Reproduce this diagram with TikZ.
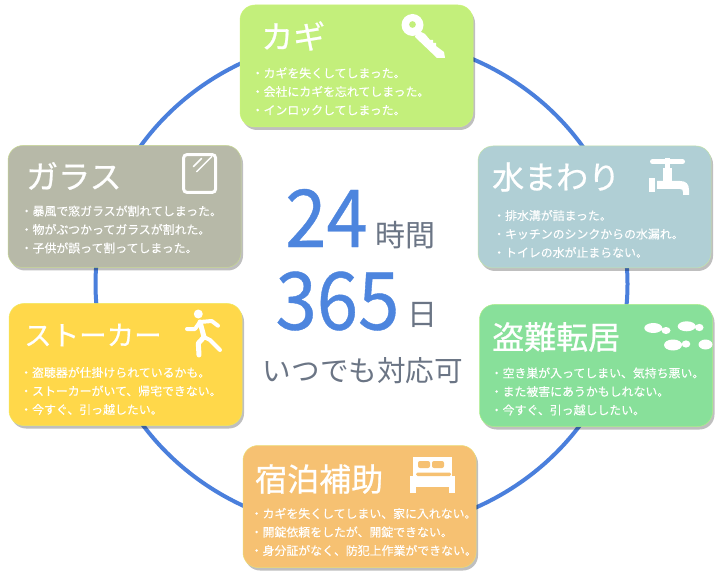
\documentclass[tikz,border=0pt]{standalone}
\usepackage{fontspec}
\setmainfont{Noto Sans CJK JP}
\newfontfamily\headfont[FakeBold=0.7]{Noto Sans CJK JP}
\newfontfamily\linefont[FakeBold=0.25]{Noto Sans CJK JP}
\newfontfamily\numfont[FakeBold=0.5]{Noto Sans CJK JP}
\usetikzlibrary{shapes.geometric,shadows}
\definecolor{ringblue}{HTML}{4A7FDC}
\definecolor{numblue}{HTML}{4D85DE}
\definecolor{wordgray}{HTML}{6B7585}
\definecolor{keygreen}{HTML}{C3EF7B}
\definecolor{watercol}{HTML}{B0CFD5}
\definecolor{thiefcol}{HTML}{88E09A}
\definecolor{bedcol}{HTML}{F6C172}
\definecolor{stalkcol}{HTML}{FFD84A}
\definecolor{glasscol}{HTML}{B7B9A8}
\begin{document}
\begin{tikzpicture}[
  panel/.style={rectangle, rounded corners=15pt, minimum width=233pt, minimum height=122pt, inner sep=0pt, draw=#1!70!lime!80!white, line width=.5pt, fill=#1, drop shadow={shadow xshift=2pt, shadow yshift=-3pt, fill=black, opacity=.25}},
  head/.style={anchor=west, inner sep=0pt, text=white, font=\headfont\fontsize{32}{32}\selectfont},
  lines/.style={anchor=west, inner sep=0pt, align=left, text=white, font=\linefont\fontsize{11.9}{18.5}\selectfont},
  word/.style={inner sep=0pt, text=wordgray},
  num/.style={inner sep=0pt, text=numblue, transform shape, xscale=.93, font=\numfont\fontsize{80}{80}\selectfont},
  iconline/.style={draw=white, line width=#1, line cap=round, line join=round},
  iconline/.default=5pt]
  \useasboundingbox (0pt, 0pt) rectangle (720pt, -585pt);
  \draw (0pt, 0pt) rectangle (720pt, -585pt) [draw=none, fill=white];
  \draw (361.5pt, -284pt)node[ellipse, draw=ringblue, line width=4pt, minimum width=532pt, minimum height=495pt, inner sep=0pt](ring){};

  \draw (356.5pt, -66pt)node[panel=keygreen](key){};
  \draw (594.5pt, -207pt)node[panel=watercol](water){};
  \draw (596pt, -365.5pt)node[panel=thiefcol](thief){};
  \draw (359.5pt, -506.5pt)node[panel=bedcol](bed){};
  \draw (125.5pt, -364.5pt)node[panel=stalkcol](stalker){};
  \draw (124.5pt, -206.5pt)node[panel=glasscol](glass){};

  \draw (261pt, -36pt)node[head](keyhead){カギ};
  \draw (492pt, -177pt)node[head](waterhead){水まわり};
  \draw (492pt, -337pt)node[head](thiefhead){盗難転居};
  \draw (255pt, -479pt)node[head](bedhead){宿泊補助};
  \draw (24pt, -335pt)node[head, font=\headfont\fontsize{27.5}{28}\selectfont](stalkerhead){ストーカー};
  \draw (26pt, -176pt)node[head](glasshead){ガラス};

  \draw (251.5pt, -91.5pt)node[lines](keytext){・カギを失くしてしまった。\\・会社にカギを忘れてしまった。\\・インロックしてしまった。};
  \draw (493pt, -234pt)node[lines](watertext){・排水溝が詰まった。\\・キッチンのシンクからの水漏れ。\\・トイレの水が止まらない。};
  \draw (490.5pt, -391.5pt)node[lines](thieftext){・空き巣が入ってしまい、気持ち悪い。\\・また被害にあうかもしれない。\\・今すぐ、引っ越ししたい。};
  \draw (250.5pt, -532pt)node[lines](bedtext){・カギを失くしてしまい、家に入れない。\\・開錠依頼をしたが、開錠できない。\\・身分証がなく、防犯上作業ができない。};
  \draw (20pt, -391pt)node[lines](stalkertext){・盗聴器が仕掛けられているかも。\\・ストーカーがいて、帰宅できない。\\・今すぐ、引っ越したい。};
  \draw (20.5pt, -229.5pt)node[lines](glasstext){・暴風で窓ガラスが割れてしまった。\\・物がぶつかってガラスが割れた。\\・子供が誤って割ってしまった。};

  \draw (326.5pt, -218pt)node[num](hourcount){24};
  \draw (337.5pt, -301pt)node[num](daycount){365};
  \draw (405.5pt, -235pt)node[word, font=\fontsize{30}{30}\selectfont](hours){時間};
  \draw (422pt, -314.5pt)node[word, font=\fontsize{30}{30}\selectfont](days){日};
  \draw (363pt, -370.5pt)node[word, font=\fontsize{28.6}{29}\selectfont](always){いつでも対応可};

  % key
  \fill[white, even odd rule] (412.5pt, -25pt) circle (11pt) (412.5pt, -24.5pt) circle (3.5pt);
  \fill[white] (417pt, -30pt) -- (425pt, -34pt) -- (430pt, -40pt) -- (433pt, -40pt) -- (433pt, -43pt) -- (436pt, -43pt) -- (436pt, -46pt) -- (444pt, -52pt) -- (445pt, -58pt) -- (437pt, -58pt) -- (415pt, -37pt) -- cycle;
  % tap
  \draw[iconline] (652.5pt, -161.7pt) -- (682.5pt, -161.7pt);
  \fill[white] (665pt, -158pt) rectangle (670pt, -168pt);
  \fill[white] (663pt, -168pt) rectangle (672pt, -181pt);
  \fill[white] (649pt, -178pt) rectangle (655pt, -192pt);
  \fill[white] (657pt, -181pt) -- (680pt, -181pt) .. controls (686pt, -181pt) and (689pt, -184pt) .. (689pt, -190pt) -- (689pt, -195pt) -- (683pt, -195pt) -- (683pt, -192pt) .. controls (683pt, -190pt) and (682pt, -189pt) .. (680pt, -189pt) -- (657pt, -189pt) -- cycle;
  % footprints
  \fill[white] (653.3pt, -328pt) ellipse (9pt and 5pt) (666pt, -330.5pt) ellipse (4.5pt and 3.5pt);
  \fill[white] (686.7pt, -326.3pt) ellipse (9pt and 5pt) (699.3pt, -327.5pt) ellipse (4.3pt and 3.6pt);
  \fill[white] (673pt, -345pt) ellipse (9pt and 5.5pt) (686pt, -344pt) ellipse (4.3pt and 3.6pt);
  \fill[white] (705.5pt, -344.5pt) ellipse (7pt and 5pt);
  % bed
  \fill[white] (413pt, -457pt) rectangle (452pt, -476pt);
  \fill[white] (410pt, -476pt) rectangle (455pt, -487pt);
  \fill[white] (410pt, -487pt) rectangle (416pt, -493pt);
  \fill[white] (449pt, -487pt) rectangle (455pt, -493pt);
  \fill[bedcol, rounded corners=2pt] (418pt, -461pt) rectangle (430pt, -468pt);
  \fill[bedcol, rounded corners=2pt] (432pt, -461pt) rectangle (444pt, -468pt);
  \fill[bedcol, rounded corners=1.5pt] (416pt, -472.5pt) rectangle (451pt, -476pt);
  % runner
  \fill[white] (198.3pt, -314pt) circle (4.5pt);
  \draw[iconline=4pt] (187pt, -329pt) -- (195pt, -329pt) -- (200pt, -322pt) -- (211.7pt, -321pt) -- (218pt, -325.7pt);
  \draw[iconline=5pt] (200pt, -322pt) -- (204pt, -337pt) -- (198.3pt, -343.3pt) -- (199pt, -355pt);
  \draw[iconline=4pt] (204pt, -337pt) -- (210pt, -340pt) -- (220pt, -350pt);
  % mirror
  \draw[draw=white, line width=3pt, rounded corners=3pt] (183.7pt, -154.7pt) rectangle (215.5pt, -192.3pt);
  \draw[iconline=1.5pt] (193.3pt, -166.7pt) -- (201.7pt, -158.3pt);
  \draw[iconline=1.5pt] (196.7pt, -171.7pt) -- (211.7pt, -156.7pt);
\end{tikzpicture}
\end{document}
